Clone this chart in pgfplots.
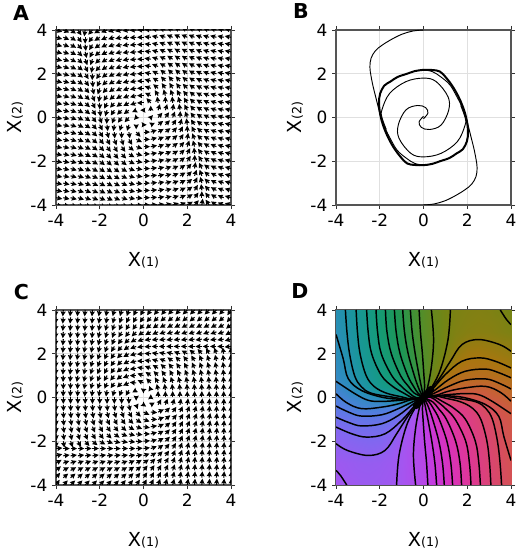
\documentclass[border=0pt]{standalone}
\usepackage{fontspec}
\setmainfont{DejaVu Sans}
\usepackage{pgfplots}
\usepackage{pgfplotstable}
\pgfplotsset{compat=1.18}
\usetikzlibrary{arrows.meta}
\definecolor{fr}{HTML}{555555}
\pgfplotsset{colormap={ph}{rgb255=(125,105,240) rgb255=(85,125,225) rgb255=(45,140,190) rgb255=(25,150,155) rgb255=(20,155,120) rgb255=(30,150,85) rgb255=(70,145,50) rgb255=(115,132,20) rgb255=(168,118,15) rgb255=(190,105,40) rgb255=(210,85,75) rgb255=(217,70,110) rgb255=(222,55,150) rgb255=(215,50,190) rgb255=(195,60,225) rgb255=(165,85,240) rgb255=(125,105,240) rgb255=(85,125,225) rgb255=(45,140,190) rgb255=(25,150,155) rgb255=(20,155,120)}}
\newcommand{\tk}{\fontsize{12.7}{14}\selectfont}
\newcommand{\lb}[1]{\fontsize{14.5}{15}\selectfont X{\fontsize{9.5}{10}\selectfont(#1)}}
\pgfplotsset{pan/.style={width=131.25pt,height=131.25pt,scale only axis,anchor=south west,
 axis line style={fr,line width=1pt},tick style={black!80,line width=.6pt},tick align=outside,major tick length=3pt,
 grid=major,major grid style={black!12,line width=.6pt},axis on top=false,
 tick label style={font=\tk},
 xticklabels={-4,-2,0,2,4},yticklabels={-4,-2,0,2,4},
 xlabel={\lb{1}},ylabel={\lb{2}},
 xlabel style={at={(axis description cs:.5,-.314)},anchor=center},
 ylabel style={at={(axis description cs:-.234,.5)},anchor=center,rotate=0},
 clip=true},
 grA/.style={pan,xmin=-12,xmax=12,ymin=-12,ymax=12,xtick={-12,-6,0,6,12},ytick={-12,-6,0,6,12}},
 grB/.style={pan,xmin=-4,xmax=4,ymin=-4,ymax=4,xtick={-4,-2,0,2,4},ytick={-4,-2,0,2,4}}}
\newcommand{\Ln}{(0.88*min(1,sqrt((\thisrow{i})*(\thisrow{i})+(\thisrow{j})*(\thisrow{j}))/2))}
\newcommand{\Mg}{sqrt((\thisrow{u})*(\thisrow{u})+(\thisrow{i})*(\thisrow{i})/9)}
\newcommand{\CL}{\addplot[black,line width=1.1pt,smooth,tension=.6] coordinates}
\tikzset{qa/.style={-{Stealth[length=3.7pt,width=3.7pt,inset=.4pt]},line width=.8pt,black}}
\pgfplotstableread{
i j u a
-12 12 13.3 265
-11 12 8.8 265
-10 12 5 265
-9 12 2 265
-8 12 -.4 265
-7 12 -2.1 265
-6 12 -3.3 260
-5 12 -4.1 260
-4 12 -4.5 255
-3 12 -4.7 255
-2 12 -4.6 250
-1 12 -4.3 245
0 12 -4 240
1 12 -3.7 235
2 12 -3.4 230
3 12 -3.3 230
4 12 -3.5 225
5 12 -3.9 225
6 12 -4.7 225
7 12 -5.9 225
8 12 -7.7 225
9 12 -10 225
10 12 -13 225
11 12 -16.8 225
12 12 -21.3 235
-12 11 13.7 265
-11 11 9.1 265
-10 11 5.3 265
-9 11 2.3 265
-8 11 0 265
-7 11 -1.8 265
-6 11 -3 260
-5 11 -3.8 260
-4 11 -4.2 255
-3 11 -4.3 250
-2 11 -4.2 245
-1 11 -4 240
0 11 -3.7 235
1 11 -3.3 230
2 11 -3.1 225
3 11 -3 220
4 11 -3.1 220
5 11 -3.5 220
6 11 -4.3 220
7 11 -5.6 220
8 11 -7.3 220
9 11 -9.7 220
10 11 -12.7 220
11 11 -16.4 220
12 11 -21 230
-12 10 14 265
-11 10 9.4 265
-10 10 5.7 265
-9 10 2.7 265
-8 10 .3 265
-7 10 -1.4 265
-6 10 -2.7 260
-5 10 -3.5 255
-4 10 -3.9 250
-3 10 -4 245
-2 10 -3.9 240
-1 10 -3.7 235
0 10 -3.3 230
1 10 -3 220
2 10 -2.8 215
3 10 -2.7 210
4 10 -2.8 210
5 10 -3.2 210
6 10 -4 210
7 10 -5.2 210
8 10 -7 210
9 10 -9.3 210
10 10 -12.3 210
11 10 -16.1 210
12 10 -20.7 220
-12 9 14.3 265
-11 9 9.8 265
-10 9 6 265
-9 9 3 265
-8 9 .7 265
-7 9 -1.1 265
-6 9 -2.3 255
-5 9 -3.1 255
-4 9 -3.5 250
-3 9 -3.7 240
-2 9 -3.6 235
-1 9 -3.3 225
0 9 -3 215
1 9 -2.7 210
2 9 -2.4 205
3 9 -2.3 200
4 9 -2.5 200
5 9 -2.9 200
6 9 -3.7 200
7 9 -4.9 200
8 9 -6.7 200
9 9 -9 200
10 9 -12 200
11 9 -15.8 200
12 9 -20.3 210
-12 8 14.7 265
-11 8 10.1 265
-10 8 6.3 265
-9 8 3.3 265
-8 8 1 265
-7 8 -.8 260
-6 8 -2 255
-5 8 -2.8 250
-4 8 -3.2 245
-3 8 -3.3 235
-2 8 -3.2 225
-1 8 -3 210
0 8 -2.7 200
1 8 -2.3 190
2 8 -2.1 188
3 8 -2 188
4 8 -2.1 188
5 8 -2.5 188
6 8 -3.3 188
7 8 -4.6 188
8 8 -6.3 188
9 8 -8.7 188
10 8 -11.7 188
11 8 -15.4 188
12 8 -20 195
-12 7 15 265
-11 7 10.4 265
-10 7 6.7 265
-9 7 3.7 265
-8 7 1.3 260
-7 7 -.4 258
-6 7 -1.7 255
-5 7 -2.5 250
-4 7 -2.9 240
-3 7 -3 230
-2 7 -2.9 215
-1 7 -2.7 200
0 7 -2.3 188
1 7 -2 183
2 7 -1.8 180
3 7 -1.7 180
4 7 -1.8 180
5 7 -2.2 180
6 7 -3 180
7 7 -4.2 180
8 7 -6 180
9 7 -8.3 180
10 7 -11.3 180
11 7 -15.1 180
12 7 -19.7 185
-12 6 15.3 265
-11 6 10.8 265
-10 6 7 265
-9 6 4 262
-8 6 1.7 260
-7 6 -.1 255
-6 6 -1.3 250
-5 6 -2.1 245
-4 6 -2.5 235
-3 6 -2.7 225
-2 6 -2.6 210
-1 6 -2.3 195
0 6 -2 185
1 6 -1.7 177
2 6 -1.4 172
3 6 -1.3 168
4 6 -1.5 165
5 6 -1.9 160
6 6 -2.7 150
7 6 -3.9 142
8 6 -5.7 132
9 6 -8 120
10 6 -11 110
11 6 -14.8 100
12 6 -19.3 92
-12 5 15.7 268
-11 5 11.1 267
-10 5 7.3 265
-9 5 4.3 262
-8 5 2 260
-7 5 .2 255
-6 5 -1 250
-5 5 -1.8 242
-4 5 -2.2 235
-3 5 -2.3 225
-2 5 -2.2 210
-1 5 -2 195
0 5 -1.7 180
1 5 -1.3 172
2 5 -1.1 165
3 5 -1 158
4 5 -1.1 145
5 5 -1.5 135
6 5 -2.3 128
7 5 -3.6 120
8 5 -5.3 112
9 5 -7.7 108
10 5 -10.7 102
11 5 -14.4 98
12 5 -19 95
-12 4 16 268
-11 4 11.4 266
-10 4 7.7 264
-9 4 4.7 260
-8 4 2.3 258
-7 4 .6 252
-6 4 -.7 248
-5 4 -1.5 242
-4 4 -1.9 235
-3 4 -2 220
-2 4 -1.9 205
-1 4 -1.7 188
0 4 -1.3 170
1 4 -1 160
2 4 -.8 148
3 4 -.7 138
4 4 -.8 130
5 4 -1.2 125
6 4 -2 120
7 4 -3.2 114
8 4 -5 110
9 4 -7.3 105
10 4 -10.3 102
11 4 -14.1 98
12 4 -18.7 95
-12 3 16.3 270
-11 3 11.8 268
-10 3 8 265
-9 3 5 260
-8 3 2.7 258
-7 3 .9 252
-6 3 -.3 248
-5 3 -1.1 240
-4 3 -1.5 230
-3 3 -1.7 220
-2 3 -1.6 200
-1 3 -1.3 180
0 3 -1 160
1 3 -.7 145
2 3 -.4 135
3 3 -.3 128
4 3 -.5 120
5 3 -.9 115
6 3 -1.7 112
7 3 -2.9 108
8 3 -4.7 105
9 3 -7 102
10 3 -10 100
11 3 -13.8 96
12 3 -18.3 94
-12 2 16.7 270
-11 2 12.1 270
-10 2 8.3 268
-9 2 5.3 265
-8 2 3 260
-7 2 1.2 255
-6 2 0 250
-5 2 -.8 245
-4 2 -1.2 235
-3 2 -1.3 225
-2 2 -1.2 205
-1 2 -1 175
0 2 -.7 155
1 2 -.3 135
2 2 -.1 120
3 2 0 112
4 2 -.1 108
5 2 -.5 105
6 2 -1.3 102
7 2 -2.6 100
8 2 -4.3 98
9 2 -6.7 96
10 2 -9.7 95
11 2 -13.4 94
12 2 -18 93
-12 1 17 269
-11 1 12.4 268
-10 1 8.7 267
-9 1 5.7 266
-8 1 3.3 265
-7 1 1.6 264
-6 1 .3 262
-5 1 -.5 260
-4 1 -.9 255
-3 1 -1 250
-2 1 -.9 240
-1 1 -.7 210
0 1 -.3 145
1 1 0 110
2 1 .2 102
3 1 .3 98
4 1 .2 96
5 1 -.2 95
6 1 -1 94
7 1 -2.2 93
8 1 -4 93
9 1 -6.3 92
10 1 -9.3 92
11 1 -13.1 92
12 1 -17.7 91
-12 0 17.3 270
-11 0 12.8 270
-10 0 9 270
-9 0 6 270
-8 0 3.7 270
-7 0 1.9 270
-6 0 .7 270
-5 0 -.1 270
-4 0 -.5 270
-3 0 -.7 270
-2 0 -.6 270
-1 0 -.3 270
1 0 .3 90
2 0 .6 90
3 0 .7 90
4 0 .5 90
5 0 .1 90
6 0 -.7 90
7 0 -1.9 90
8 0 -3.7 90
9 0 -6 90
10 0 -9 90
11 0 -12.8 90
12 0 -17.3 90
-12 -1 17.7 -89
-11 -1 13.1 -88
-10 -1 9.3 -88
-9 -1 6.3 -88
-8 -1 4 -87
-7 -1 2.2 -87
-6 -1 1 -86
-5 -1 .2 -85
-4 -1 -.2 -84
-3 -1 -.3 -82
-2 -1 -.2 -78
-1 -1 0 -70
0 -1 .3 -35
1 -1 .7 30
2 -1 .9 60
3 -1 1 70
4 -1 .9 75
5 -1 .5 80
6 -1 -.3 82
7 -1 -1.6 84
8 -1 -3.3 85
9 -1 -5.7 86
10 -1 -8.7 87
11 -1 -12.4 88
12 -1 -17 89
-12 -2 18 -87
-11 -2 13.4 -86
-10 -2 9.7 -85
-9 -2 6.7 -84
-8 -2 4.3 -82
-7 -2 2.6 -80
-6 -2 1.3 -78
-5 -2 .5 -75
-4 -2 .1 -72
-3 -2 0 -68
-2 -2 .1 -60
-1 -2 .3 -45
0 -2 .7 -25
1 -2 1 -5
2 -2 1.2 25
3 -2 1.3 45
4 -2 1.2 55
5 -2 .8 65
6 -2 0 70
7 -2 -1.2 75
8 -2 -3 80
9 -2 -5.3 85
10 -2 -8.3 88
11 -2 -12.1 90
12 -2 -16.7 90
-12 -3 18.3 -86
-11 -3 13.8 -84
-10 -3 10 -80
-9 -3 7 -78
-8 -3 4.7 -75
-7 -3 2.9 -72
-6 -3 1.7 -68
-5 -3 .9 -65
-4 -3 .5 -60
-3 -3 .3 -52
-2 -3 .4 -45
-1 -3 .7 -35
0 -3 1 -20
1 -3 1.3 0
2 -3 1.6 20
3 -3 1.7 40
4 -3 1.5 50
5 -3 1.1 60
6 -3 .3 68
7 -3 -.9 72
8 -3 -2.7 78
9 -3 -5 80
10 -3 -8 85
11 -3 -11.8 88
12 -3 -16.3 90
-12 -4 18.7 -85
-11 -4 14.1 -82
-10 -4 10.3 -78
-9 -4 7.3 -75
-8 -4 5 -70
-7 -4 3.2 -66
-6 -4 2 -60
-5 -4 1.2 -55
-4 -4 .8 -50
-3 -4 .7 -42
-2 -4 .8 -32
-1 -4 1 -20
0 -4 1.3 -10
1 -4 1.7 8
2 -4 1.9 25
3 -4 2 40
4 -4 1.9 55
5 -4 1.5 62
6 -4 .7 68
7 -4 -.6 72
8 -4 -2.3 78
9 -4 -4.7 80
10 -4 -7.7 84
11 -4 -11.4 86
12 -4 -16 88
-12 -5 19 -85
-11 -5 14.4 -82
-10 -5 10.7 -78
-9 -5 7.7 -72
-8 -5 5.3 -68
-7 -5 3.6 -60
-6 -5 2.3 -52
-5 -5 1.5 -45
-4 -5 1.1 -35
-3 -5 1 -22
-2 -5 1.1 -15
-1 -5 1.3 -8
0 -5 1.7 0
1 -5 2 15
2 -5 2.2 30
3 -5 2.3 45
4 -5 2.2 55
5 -5 1.8 62
6 -5 1 70
7 -5 -.2 75
8 -5 -2 80
9 -5 -4.3 82
10 -5 -7.3 85
11 -5 -11.1 87
12 -5 -15.7 88
-12 -6 19.3 -88
-11 -6 14.8 -80
-10 -6 11 -70
-9 -6 8 -60
-8 -6 5.7 -48
-7 -6 3.9 -38
-6 -6 2.7 -30
-5 -6 1.9 -20
-4 -6 1.5 -15
-3 -6 1.3 -12
-2 -6 1.4 -8
-1 -6 1.7 -3
0 -6 2 5
1 -6 2.3 15
2 -6 2.6 30
3 -6 2.7 45
4 -6 2.5 55
5 -6 2.1 65
6 -6 1.3 70
7 -6 .1 75
8 -6 -1.7 80
9 -6 -4 82
10 -6 -7 85
11 -6 -10.8 85
12 -6 -15.3 85
-12 -7 19.7 5
-11 -7 15.1 0
-10 -7 11.3 0
-9 -7 8.3 0
-8 -7 6 0
-7 -7 4.2 0
-6 -7 3 0
-5 -7 2.2 0
-4 -7 1.8 0
-3 -7 1.7 0
-2 -7 1.8 0
-1 -7 2 3
0 -7 2.3 8
1 -7 2.7 20
2 -7 2.9 35
3 -7 3 50
4 -7 2.9 60
5 -7 2.5 70
6 -7 1.7 75
7 -7 .4 78
8 -7 -1.3 80
9 -7 -3.7 85
10 -7 -6.7 85
11 -7 -10.4 85
12 -7 -15 85
-12 -8 20 15
-11 -8 15.4 8
-10 -8 11.7 8
-9 -8 8.7 8
-8 -8 6.3 8
-7 -8 4.6 8
-6 -8 3.3 8
-5 -8 2.5 8
-4 -8 2.1 8
-3 -8 2 8
-2 -8 2.1 8
-1 -8 2.3 10
0 -8 2.7 20
1 -8 3 30
2 -8 3.2 45
3 -8 3.3 55
4 -8 3.2 65
5 -8 2.8 70
6 -8 2 75
7 -8 .8 80
8 -8 -1 85
9 -8 -3.3 85
10 -8 -6.3 85
11 -8 -10.1 85
12 -8 -14.7 85
-12 -9 20.3 30
-11 -9 15.8 20
-10 -9 12 20
-9 -9 9 20
-8 -9 6.7 20
-7 -9 4.9 20
-6 -9 3.7 20
-5 -9 2.9 20
-4 -9 2.5 20
-3 -9 2.3 20
-2 -9 2.4 25
-1 -9 2.7 30
0 -9 3 35
1 -9 3.3 45
2 -9 3.6 55
3 -9 3.7 60
4 -9 3.5 70
5 -9 3.1 75
6 -9 2.3 75
7 -9 1.1 85
8 -9 -.7 85
9 -9 -3 85
10 -9 -6 85
11 -9 -9.8 85
12 -9 -14.3 85
-12 -10 20.7 40
-11 -10 16.1 30
-10 -10 12.3 30
-9 -10 9.3 30
-8 -10 7 30
-7 -10 5.2 30
-6 -10 4 30
-5 -10 3.2 30
-4 -10 2.8 30
-3 -10 2.7 30
-2 -10 2.8 35
-1 -10 3 40
0 -10 3.3 50
1 -10 3.7 55
2 -10 3.9 60
3 -10 4 65
4 -10 3.9 70
5 -10 3.5 75
6 -10 2.7 80
7 -10 1.4 85
8 -10 -.3 85
9 -10 -2.7 85
10 -10 -5.7 85
11 -10 -9.4 85
12 -10 -14 85
-12 -11 21 50
-11 -11 16.4 40
-10 -11 12.7 40
-9 -11 9.7 40
-8 -11 7.3 40
-7 -11 5.6 40
-6 -11 4.3 40
-5 -11 3.5 40
-4 -11 3.1 40
-3 -11 3 40
-2 -11 3.1 45
-1 -11 3.3 50
0 -11 3.7 55
1 -11 4 60
2 -11 4.2 65
3 -11 4.3 70
4 -11 4.2 75
5 -11 3.8 80
6 -11 3 80
7 -11 1.8 85
8 -11 0 85
9 -11 -2.3 85
10 -11 -5.3 85
11 -11 -9.1 85
12 -11 -13.7 85
-12 -12 21.3 55
-11 -12 16.8 45
-10 -12 13 45
-9 -12 10 45
-8 -12 7.7 45
-7 -12 5.9 45
-6 -12 4.7 45
-5 -12 3.9 45
-4 -12 3.5 45
-3 -12 3.3 50
-2 -12 3.4 50
-1 -12 3.7 55
0 -12 4 60
1 -12 4.3 65
2 -12 4.6 70
3 -12 4.7 75
4 -12 4.5 75
5 -12 4.1 80
6 -12 3.3 80
7 -12 2.1 85
8 -12 .4 85
9 -12 -2 85
10 -12 -5 85
11 -12 -8.8 85
12 -12 -13.3 85
}\T
\pgfplotstableread{
x y m
-4 4 -2.85
-3.5 4 -2.64
-3 4 -2.4
-2.5 4 -2.17
-2 4 -1.91
-1.5 4 -1.65
-1 4 -1.36
-.5 4 -1.05
0 4 -.81
.5 4 -.63
1 4 -.5
1.5 4 -.42
2 4 -.38
2.5 4 -.36
3 4 -.38
3.5 4 -.44
4 4 -.5
-4 3.5 -2.87
-3.5 3.5 -2.65
-3 3.5 -2.42
-2.5 3.5 -2.19
-2 3.5 -1.93
-1.5 3.5 -1.67
-1 3.5 -1.38
-.5 3.5 -1.08
0 3.5 -.8
.5 3.5 -.64
1 3.5 -.5
1.5 3.5 -.4
2 3.5 -.36
2.5 3.5 -.34
3 3.5 -.35
3.5 3.5 -.38
4 3.5 -.44
-4 3 -2.9
-3.5 3 -2.67
-3 3 -2.43
-2.5 3 -2.2
-2 3 -1.95
-1.5 3 -1.69
-1 3 -1.4
-.5 3 -1.1
0 3 -.81
.5 3 -.65
1 3 -.48
1.5 3 -.38
2 3 -.33
2.5 3 -.31
3 3 -.32
3.5 3 -.36
4 3 -.4
-4 2.5 -2.95
-3.5 2.5 -2.7
-3 2.5 -2.45
-2.5 2.5 -2.24
-2 2.5 -1.99
-1.5 2.5 -1.74
-1 2.5 -1.47
-.5 2.5 -1.14
0 2.5 -.83
.5 2.5 -.65
1 2.5 -.47
1.5 2.5 -.32
2 2.5 -.2
2.5 2.5 -.17
3 2.5 -.2
3.5 2.5 -.24
4 2.5 -.27
-4 2 -2.96
-3.5 2 -2.75
-3 2 -2.49
-2.5 2 -2.27
-2 2 -2.03
-1.5 2 -1.8
-1 2 -1.52
-.5 2 -1.19
0 2 -.86
.5 2 -.63
1 2 -.43
1.5 2 -.19
2 2 -.07
2.5 2 -.05
3 2 -.08
3.5 2 -.13
4 2 -.19
-4 1.5 -3.03
-3.5 1.5 -2.82
-3 1.5 -2.54
-2.5 1.5 -2.34
-2 1.5 -2.13
-1.5 1.5 -1.89
-1 1.5 -1.61
-.5 1.5 -1.27
0 1.5 -.89
.5 1.5 -.6
1 1.5 -.33
1.5 1.5 -.04
2 1.5 .11
2.5 1.5 .1
3 1.5 .1
3.5 1.5 .02
4 1.5 -.08
-4 1 -3.08
-3.5 1 -2.9
-3 1 -2.62
-2.5 1 -2.41
-2 1 -2.17
-1.5 1 -1.96
-1 1 -1.75
-.5 1 -1.38
0 1 -.86
.5 1 -.53
1 1 .04
1.5 1 .24
2 1 .32
2.5 1 .34
3 1 .3
3.5 1 .24
4 1 .17
-4 .5 -3.2
-3.5 .5 -3.04
-3 .5 -2.78
-2.5 .5 -2.53
-2 .5 -2.3
-1.5 .5 -2.17
-1 .5 -2
-.5 .5 -1.5
0 .5 -1
.5 .5 -.1
1 .5 .44
1.5 .5 .58
2 .5 .66
2.5 .5 .68
3 .5 .66
3.5 .5 .52
4 .5 .4
-4 0 -3.4
-3.5 0 -3.25
-3 0 -3.15
-2.5 0 -3.02
-2 0 -2.94
-1.5 0 -2.7
-1 0 -2.45
-.5 0 -2.25
0 0 -1
.5 0 1.75
1 0 1.55
1.5 0 1.3
2 0 1.06
2.5 0 .98
3 0 .85
3.5 0 .75
4 0 .6
}\Du
\pgfplotstableread{
x y m
-4 0 4.6
-3.5 0 4.75
-3 0 4.85
-2.5 0 4.98
-2 0 5.06
-1.5 0 5.3
-1 0 5.55
-.5 0 5.75
0 0 3
.5 0 1.75
1 0 1.55
1.5 0 1.3
2 0 1.06
2.5 0 .98
3 0 .85
3.5 0 .75
4 0 .6
-4 -.5 4.4
-3.5 -.5 4.52
-3 -.5 4.66
-2.5 -.5 4.68
-2 -.5 4.66
-1.5 -.5 4.58
-1 -.5 4.44
-.5 -.5 3.9
0 -.5 3
.5 -.5 2.5
1 -.5 2
1.5 -.5 1.83
2 -.5 1.7
2.5 -.5 1.47
3 -.5 1.22
3.5 -.5 .96
4 -.5 .8
-4 -1 4.17
-3.5 -1 4.24
-3 -1 4.3
-2.5 -1 4.34
-2 -1 4.32
-1.5 -1 4.24
-1 -1 4.04
-.5 -1 3.47
0 -1 3.14
.5 -1 2.62
1 -1 2.25
1.5 -1 2.04
2 -1 1.83
2.5 -1 1.59
3 -1 1.38
3.5 -1 1.1
4 -1 .92
-4 -1.5 3.92
-3.5 -1.5 4.02
-3 -1.5 4.1
-2.5 -1.5 4.1
-2 -1.5 4.11
-1.5 -1.5 3.96
-1 -1.5 3.67
-.5 -1.5 3.4
0 -1.5 3.11
.5 -1.5 2.73
1 -1.5 2.39
1.5 -1.5 2.11
2 -1.5 1.87
2.5 -1.5 1.66
3 -1.5 1.46
3.5 -1.5 1.18
4 -1.5 .97
-4 -2 3.81
-3.5 -2 3.87
-3 -2 3.92
-2.5 -2 3.95
-2 -2 3.93
-1.5 -2 3.81
-1 -2 3.57
-.5 -2 3.37
0 -2 3.14
.5 -2 2.81
1 -2 2.48
1.5 -2 2.2
2 -2 1.97
2.5 -2 1.73
3 -2 1.51
3.5 -2 1.25
4 -2 1.04
-4 -2.5 3.73
-3.5 -2.5 3.76
-3 -2.5 3.8
-2.5 -2.5 3.83
-2 -2.5 3.8
-1.5 -2.5 3.68
-1 -2.5 3.53
-.5 -2.5 3.35
0 -2.5 3.17
.5 -2.5 2.86
1 -2.5 2.53
1.5 -2.5 2.26
2 -2.5 2.01
2.5 -2.5 1.76
3 -2.5 1.55
3.5 -2.5 1.3
4 -2.5 1.05
-4 -3 3.6
-3.5 -3 3.64
-3 -3 3.68
-2.5 -3 3.69
-2 -3 3.67
-1.5 -3 3.62
-1 -3 3.52
-.5 -3 3.35
0 -3 3.19
.5 -3 2.9
1 -3 2.6
1.5 -3 2.31
2 -3 2.05
2.5 -3 1.8
3 -3 1.57
3.5 -3 1.33
4 -3 1.1
-4 -3.5 3.56
-3.5 -3.5 3.62
-3 -3.5 3.65
-2.5 -3.5 3.66
-2 -3.5 3.64
-1.5 -3.5 3.6
-1 -3.5 3.5
-.5 -3.5 3.36
0 -3.5 3.2
.5 -3.5 2.92
1 -3.5 2.62
1.5 -3.5 2.33
2 -3.5 2.07
2.5 -3.5 1.81
3 -3.5 1.58
3.5 -3.5 1.35
4 -3.5 1.13
-4 -4 3.5
-3.5 -4 3.56
-3 -4 3.62
-2.5 -4 3.64
-2 -4 3.62
-1.5 -4 3.58
-1 -4 3.5
-.5 -4 3.37
0 -4 3.19
.5 -4 2.95
1 -4 2.64
1.5 -4 2.35
2 -4 2.09
2.5 -4 1.83
3 -4 1.6
3.5 -4 1.36
4 -4 1.15
}\Dl
\begin{document}
\begin{tikzpicture}
\path[use as bounding box] (0pt,0pt) rectangle (388.5pt,417pt);
\begin{axis}[grA,at={(42pt,263.25pt)}]
\addplot[qa,quiver={u={(\thisrow{u})/\Mg*\Ln},v={(\thisrow{i})/3/\Mg*\Ln}}] table[x=i,y=j]{\T};
\end{axis}
\begin{axis}[grA,at={(42pt,53.25pt)}]
\addplot[qa,quiver={u={cos(\thisrow{a})*\Ln},v={sin(\thisrow{a})*\Ln}}] table[x=i,y=j]{\T};
\end{axis}
\begin{axis}[grB,at={(252pt,263.25pt)}]
\addplot[black,line width=.7pt,smooth,tension=.6] coordinates {(0,4)(-.5,3.95)(-1,3.8)(-1.5,3.55)(-1.9,3.3)(-2.2,3.05)(-2.4,2.7)(-2.45,2.3)(-2.4,1.9)(-2.3,1.4)(-2.2,1)(-2.1,.6)(-2,.2)(-1.93,0)(-1.75,-.5)(-1.5,-1)(-1.2,-1.5)(-.8,-1.85)(-.4,-2.1)(0,-2.17)};
\addplot[black,line width=.7pt,smooth,tension=.6] coordinates {(0,-4)(.5,-3.95)(1,-3.8)(1.5,-3.55)(1.9,-3.3)(2.2,-3.05)(2.4,-2.7)(2.45,-2.3)(2.4,-1.9)(2.3,-1.4)(2.2,-1)(2.1,-.6)(2,-.2)(1.93,0)(1.75,.5)(1.5,1)(1.2,1.5)(.8,1.85)(.4,2.1)(0,2.17)};
\addplot[black,line width=.7pt,smooth,tension=.6] coordinates {(0,.05)(-.2,-.2)(-.1,-.45)(.27,-.55)(.8,-.35)(1.15,.33)(1.12,.95)(.58,1.64)(0,1.8)(-.8,1.64)(-1.55,1.1)(-1.9,.35)(-1.9,0)(-1.7,-.55)};
\addplot[black,line width=.7pt,smooth,tension=.6] coordinates {(0,-.05)(.2,.2)(.1,.45)(-.27,.55)(-.8,.35)(-1.15,-.33)(-1.12,-.95)(-.58,-1.64)(0,-1.8)(.8,-1.64)(1.55,-1.1)(1.9,-.35)(1.9,0)(1.7,.55)};
\addplot[black,line width=1.5pt,smooth,tension=.6] coordinates {(0,2.18)(.4,2.17)(.75,2.1)(1.05,1.8)(1.34,1.41)(1.6,.95)(1.8,.49)(1.95,0)(2.02,-.43)(2.03,-.85)(1.98,-1.1)(1.8,-1.45)(1.5,-1.65)(1.19,-1.85)(.75,-2)(.4,-2.12)(0,-2.18)(-.4,-2.17)(-.75,-2.1)(-1.05,-1.8)(-1.34,-1.41)(-1.6,-.95)(-1.8,-.49)(-1.95,0)(-2.02,.43)(-2.03,.85)(-1.98,1.1)(-1.8,1.45)(-1.5,1.65)(-1.19,1.85)(-.75,2)(-.4,2.12)(0,2.18)};
\end{axis}
\begin{axis}[grB,at={(252pt,53.25pt)},grid=none,point meta min=-4,point meta max=6,colormap name=ph]
\addplot[surf,shader=interp,mesh/cols=17,point meta=\thisrow{m}] table[x=x,y=y]{\Du};
\addplot[surf,shader=interp,mesh/cols=17,point meta=\thisrow{m}] table[x=x,y=y]{\Dl};
\CL {(3.57,-4)(3.5,-3)(3.38,-2)(3.15,-1)(2.85,-.5)(2.4,-.2)(1.5,-.03)(.6,.1)(0,0)};
\CL {(3.08,-4)(3.02,-3)(2.9,-2)(2.62,-1)(2.25,-.5)(1.7,-.2)(1,-.03)(.5,.08)(0,0)};
\CL {(2.6,-4)(2.53,-3)(2.37,-2)(1.92,-1)(1.4,-.5)(.9,-.2)(.45,.03)(0,0)};
\CL {(2.17,-4)(2.1,-3)(1.93,-2)(1.45,-1)(1,-.5)(.65,-.2)(.35,0)(0,0)};
\CL {(1.74,-4)(1.67,-3)(1.47,-2)(1.05,-1)(.68,-.5)(.42,-.2)(0,0)};
\CL {(1.33,-4)(1.25,-3)(1.07,-2)(.72,-1)(.45,-.5)(.25,-.2)(0,0)};
\CL {(.95,-4)(.87,-3)(.7,-2)(.42,-1)(.25,-.5)(.12,-.2)(0,0)};
\CL {(.6,-4)(.52,-3)(.38,-2)(.2,-1)(.1,-.5)(0,0)};
\CL {(.2,-4)(.14,-3)(.05,-2)(-.02,-1)(-.05,-.5)(0,0)};
\CL {(-3.57,4)(-3.5,3)(-3.38,2)(-3.15,1)(-2.85,.5)(-2.4,.2)(-1.5,.03)(-.6,-.1)(0,0)};
\CL {(-3.08,4)(-3.02,3)(-2.9,2)(-2.62,1)(-2.25,.5)(-1.7,.2)(-1,.03)(-.5,-.08)(0,0)};
\CL {(-2.6,4)(-2.53,3)(-2.37,2)(-1.92,1)(-1.4,.5)(-.9,.2)(-.45,-.03)(0,0)};
\CL {(-2.17,4)(-2.1,3)(-1.93,2)(-1.45,1)(-1,.5)(-.65,.2)(-.35,0)(0,0)};
\CL {(-1.74,4)(-1.67,3)(-1.47,2)(-1.05,1)(-.68,.5)(-.42,.2)(0,0)};
\CL {(-1.33,4)(-1.25,3)(-1.07,2)(-.72,1)(-.45,.5)(-.25,.2)(0,0)};
\CL {(-.95,4)(-.87,3)(-.7,2)(-.42,1)(-.25,.5)(-.12,.2)(0,0)};
\CL {(-.6,4)(-.52,3)(-.38,2)(-.2,1)(-.1,.5)(0,0)};
\CL {(-.2,4)(-.14,3)(-.05,2)(.02,1)(.05,.5)(0,0)};
\CL {(.36,4)(.46,2.65)(.36,1.4)(.16,.36)(0,0)};
\CL {(-.36,-4)(-.46,-2.65)(-.36,-1.4)(-.16,-.36)(0,0)};
\CL {(1.23,4)(1.12,2.65)(.77,1.27)(.31,.36)(0,0)};
\CL {(-1.23,-4)(-1.12,-2.65)(-.77,-1.27)(-.31,-.36)(0,0)};
\CL {(4,2.11)(3.48,2.42)(2.52,2.65)(1.76,2.42)(1.23,1.66)(.69,.82)(.24,.29)(0,0)};
\CL {(-4,-2.11)(-3.48,-2.42)(-2.52,-2.65)(-1.76,-2.42)(-1.23,-1.66)(-.69,-.82)(-.24,-.29)(0,0)};
\CL {(4,1.35)(3.3,1.65)(2.6,1.81)(1.76,1.66)(1,1.05)(.39,.36)(0,0)};
\CL {(-4,-1.35)(-3.3,-1.65)(-2.6,-1.81)(-1.76,-1.66)(-1,-1.05)(-.39,-.36)(0,0)};
\CL {(4,.9)(3.4,1.15)(2.83,1.3)(1.91,1.2)(1.15,.82)(.46,.29)(0,0)};
\CL {(-4,-.9)(-3.4,-1.15)(-2.83,-1.3)(-1.91,-1.2)(-1.15,-.82)(-.46,-.29)(0,0)};
\CL {(4,.39)(3.4,.68)(2.83,.85)(1.91,.79)(1.15,.51)(.46,.18)(0,0)};
\CL {(-4,-.39)(-3.4,-.68)(-2.83,-.85)(-1.91,-.79)(-1.15,-.51)(-.46,-.18)(0,0)};
\CL {(4,-.17)(3.51,.24)(2.83,.51)(1.91,.44)(1.15,.29)(.54,.09)(0,0)};
\CL {(-4,.17)(-3.51,-.24)(-2.83,-.51)(-1.91,-.44)(-1.15,-.29)(-.54,-.09)(0,0)};
\CL {(4,-.74)(3.13,-.17)(2.52,.13)(1.91,.18)(1,.12)(.5,.05)(0,0)};
\CL {(-4,.74)(-3.13,.17)(-2.52,-.13)(-1.91,-.18)(-1,-.12)(-.5,-.05)(0,0)};
\CL {(4,-2.88)(3.67,-1.77)(3.44,-.86)(2.83,-.32)(1.84,0)(1,.08)(.4,.06)(0,0)};
\CL {(-4,2.88)(-3.67,1.77)(-3.44,.86)(-2.83,.32)(-1.84,0)(-1,-.08)(-.4,-.06)(0,0)};
\CL {(3.51,4)(3.79,3.57)(4,3.33)};
\CL {(-3.51,-4)(-3.79,-3.57)(-4,-3.33)};
\addplot[black,line width=5pt,line cap=round] coordinates {(-.34,-.38)(.34,.38)};
\end{axis}
\node[font=\bfseries\fontsize{15.4}{16}\selectfont] at (15.8pt,407.5pt) {A};
\node[font=\bfseries\fontsize{15.4}{16}\selectfont] at (225.8pt,408.5pt) {B};
\node[font=\bfseries\fontsize{15.4}{16}\selectfont] at (16pt,198pt) {C};
\node[font=\bfseries\fontsize{15.4}{16}\selectfont] at (225pt,198.5pt) {D};
\end{tikzpicture}
\end{document}
